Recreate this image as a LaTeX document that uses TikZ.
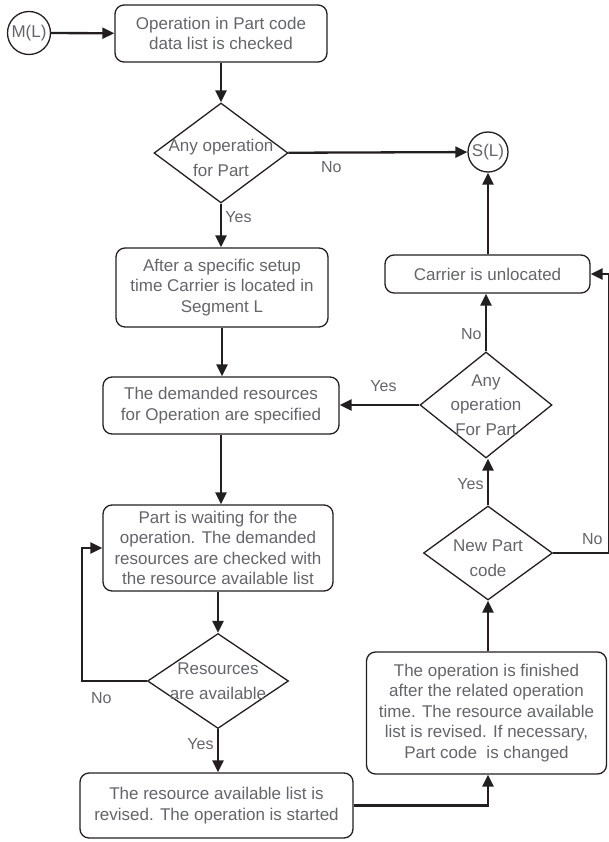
\documentclass[tikz,border=0pt]{standalone}
\usepackage{fontspec}
\setmainfont{Liberation Sans}
\usepackage{xcolor}
\usetikzlibrary{arrows.meta,shapes.geometric}
\definecolor{txtgray}{RGB}{100,101,104}
\definecolor{inkdark}{RGB}{35,31,32}

\begin{document}
\begin{tikzpicture}[x=1pt,y=-1pt,>={Triangle[length=12pt,width=11pt]},
  box/.style={draw=inkdark,line width=1.3pt,rounded corners=9pt,align=center,text=txtgray,font=\fontsize{17}{20.5}\selectfont,inner sep=0pt},
  dec/.style={draw=inkdark,line width=1.3pt,diamond,inner sep=0pt},
  dtxt/.style={align=center,text=txtgray,font=\fontsize{17}{24.5}\selectfont,inner sep=0pt},
  term/.style={draw=inkdark,line width=1.3pt,circle,inner sep=0pt,text=txtgray,font=\fontsize{17}{20}\selectfont},
  lbl/.style={text=txtgray,font=\fontsize{16}{19}\selectfont},
  arr/.style={->,draw=inkdark,line width=2.3pt}]
\useasboundingbox (0,0) rectangle (608,842);
% terminals
\node[term,minimum size=43pt](ml)at(29,33){M(L)};
\node[term,minimum size=40pt](sl)at(488,152){S(L)};
% left column
\node[box,minimum width=212pt,minimum height=57pt](b1)at(221,33.5){Operation in Part code\\data list is checked};
\node[dec,minimum width=134pt,minimum height=100pt](q1)at(221,153){};
\node[dtxt](q1t)at([yshift=-5pt]q1){Any operation\\for Part};
\node[box,minimum width=212pt,minimum height=79pt](b2)at(222,287.5){After a specific setup\\time Carrier is located in\\Segment L};
\node[box,minimum width=236pt,minimum height=57pt](b3)at(221,405.5){The demanded resources\\for Operation are specified};
\node[box,minimum width=230pt,minimum height=86pt](b4)at(218,548){Part is waiting for the\\operation. The demanded\\resources are checked with\\the resource available list};
\node[dec,minimum width=141pt,minimum height=95pt](q3)at(218,681){};
\node[dtxt](q3t)at(q3){Resources\\are available};
\node[box,minimum width=273pt,minimum height=65pt](b5)at(216.5,805.5){The resource available list is\\revised. The operation is started};
% right column
\node[box,minimum width=205pt,minimum height=38pt](car)at(487.5,274){Carrier is unlocated};
\node[dec,minimum width=132pt,minimum height=106pt](q2)at(486,405){};
\node[dtxt](q2t)at(q2){Any\\operation\\For Part};
\node[dec,minimum width=129pt,minimum height=94pt](q4)at(488,553){};
\node[dtxt](q4t)at([yshift=-5pt]q4){New Part\\code};
\node[box,minimum width=240pt,minimum height=122pt](b6)at(486.5,713){The operation is finished\\after the related operation\\time. The resource available\\list is revised. If necessary,\\Part code\ \ is changed};
% connectors
\draw[arr](ml)--(b1);
\draw[arr](b1)--(q1);
\draw[arr](q1)--(sl)node[lbl,pos=0.24,below=4pt](n1){No};
\draw[arr](q1)--(q1|-b2.north)node[lbl,pos=0.3,right](y1){Yes};
\draw[arr](b2.south)--(b2.south|-b3.north);
\draw[arr](b3.south)--(b3.south|-b4.north);
\draw[arr](b4)--(q3);
\draw[arr](q3.west)--++(-65,0)node[lbl,pos=0.7,below=7pt](n3){No}|-(b4.west);
\draw[arr](q3)--(q3|-b5.north)node[lbl,pos=0.35,left](y3){Yes};
\draw[arr](b5.east)-|(q4|-b6.south);
\draw[arr](b6.north-|q4)--(q4);
\draw[arr](q4)--(q4|-q2.south)node[lbl,pos=0.45,left](y4){Yes};
\draw[arr](q4.east)--++(56,0)node[lbl,pos=0.7,above=4pt](n4){No}|-(car.east);
\draw[arr](q2)--(q2|-car.south)node[lbl,pos=0.3,left](n2){No};
\draw[arr](q2.west)--(q2.west-|b3.east)node[lbl,pos=0.45,above=9pt](y2){Yes};
\draw[arr](car.north-|sl)--(sl);
\end{tikzpicture}
\end{document}
